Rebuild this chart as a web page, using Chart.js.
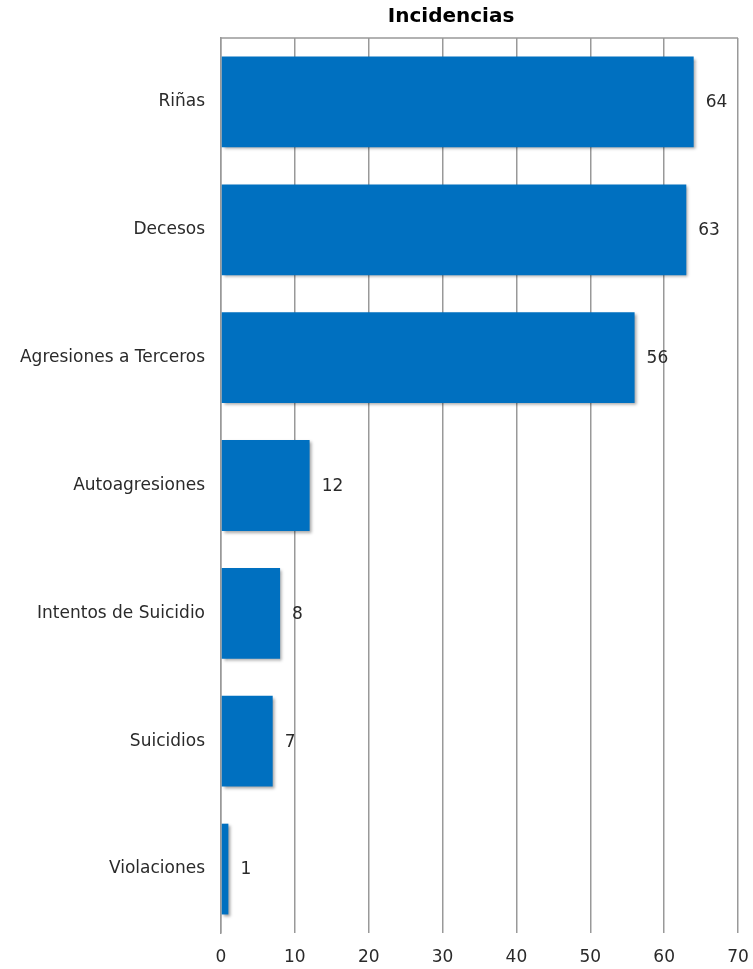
<!DOCTYPE html>
<html>
<head>
<meta charset="utf-8">
<script src="https://cdn.jsdelivr.net/npm/chart.js@4"></script>
<style>
  html, body { margin: 0; padding: 0; background: #fff; }
  #wrap { width: 753px; height: 969px; }
</style>
</head>
<body>
<div id="wrap"><canvas id="myChart"></canvas></div>
<script>
const categories = [
  'Riñas',
  'Decesos',
  'Agresiones a Terceros',
  'Autoagresiones',
  'Intentos de Suicidio',
  'Suicidios',
  'Violaciones',
];
const values = [64, 63, 56, 12, 8, 7, 1];
const xTicks = [0, 10, 20, 30, 40, 50, 60, 70];
const chartTitle = 'Incidencias';

const FONT = "'DejaVu Sans', sans-serif";
const TEXT = '#2a2a2a';

// shadow under the bars, like the original
const barShadow = {
  id: 'barShadow',
  beforeDatasetDraw(chart) {
    const ctx = chart.ctx;
    ctx.save();
    ctx.shadowColor = 'rgba(0,0,0,0.35)';
    ctx.shadowBlur = 3;
    ctx.shadowOffsetX = 2;
    ctx.shadowOffsetY = 2;
  },
  afterDatasetDraw(chart) {
    chart.ctx.restore();
  }
};

// value labels, title and top border
const extras = {
  id: 'extras',
  afterDraw(chart) {
    const ctx = chart.ctx;
    const area = chart.chartArea;
    ctx.save();

    // top border line
    ctx.strokeStyle = '#999';
    ctx.lineWidth = 1.5;
    ctx.beginPath();
    ctx.moveTo(area.left, area.top);
    ctx.lineTo(area.right, area.top);
    ctx.stroke();

    // values
    ctx.fillStyle = TEXT;
    ctx.font = '17px ' + FONT;
    ctx.textAlign = 'left';
    ctx.textBaseline = 'middle';
    chart.getDatasetMeta(0).data.forEach((bar, i) => {
      ctx.fillText(String(values[i]), bar.x + 12, bar.y + 1);
    });

    // title
    ctx.font = 'bold 20px ' + FONT;
    ctx.fillStyle = '#000';
    ctx.textAlign = 'center';
    ctx.fillText(chartTitle, area.left + (area.right - area.left) * 0.445, 17);
    ctx.restore();
  }
};

const config = {
  type: 'bar',
  data: {
    labels: categories,
    datasets: [{
      data: values,
      backgroundColor: '#0070C0',
      borderWidth: 0,
      categoryPercentage: 0.71,
      barPercentage: 1,
    }]
  },
  options: {
    indexAxis: 'y',
    responsive: false,
    animation: false,
    devicePixelRatio: 1,
    layout: {padding: {top: 38, right: 15, left: 0, bottom: 0}},
    plugins: {
      legend: {display: false},
      title: {display: false},
      tooltip: {enabled: false},
    },
    scales: {
      x: {
        min: 0,
        max: 70,
        afterBuildTicks: (scale) => {
          scale.ticks = xTicks.map(v => ({value: v}));
        },
        afterFit: (scale) => {
          scale.height = 36;
          scale.paddingLeft = 0;
          scale.paddingRight = 0;
        },
        grid: {color: '#999', lineWidth: 1.5, drawTicks: false},
        border: {display: false},
        ticks: {
          color: TEXT,
          font: {family: FONT, size: 17},
          padding: 14,
          maxRotation: 0,
        },
      },
      y: {
        afterFit: (scale) => { scale.width = 221; },
        grid: {display: false, drawTicks: false},
        border: {display: true, color: '#999', width: 1.5},
        ticks: {
          color: TEXT,
          font: {family: FONT, size: 17},
          padding: 16,
        },
      },
    },
  },
  plugins: [barShadow, extras],
};

const canvas = document.getElementById('myChart');
canvas.width = 753;
canvas.height = 969;
new Chart(canvas, config);
</script>
</body>
</html>
